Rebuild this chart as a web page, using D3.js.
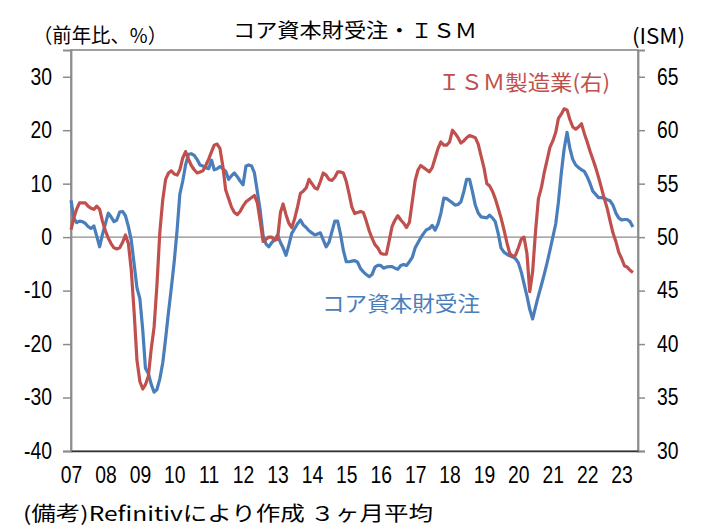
<!DOCTYPE html>
<html>
<head>
<meta charset="utf-8">
<script src="https://cdn.jsdelivr.net/npm/d3@7"></script>
<style>
  body { margin: 0; background: #fff; }
  svg { display: block; }
  .jp { font-family: "Noto Sans CJK JP", "Noto Sans", sans-serif; }
  .num { font-family: "Liberation Sans", Arial, sans-serif; font-size: 23px; fill: #000; }
</style>
</head>
<body>
<svg id="chart" width="701" height="529"></svg>
<script>
(() => {
  'use strict';

  // core capital goods orders, y/y %, 3-month average, monthly from Jan 2007
  const capexYoY = [
    6.9, 3.5, 2.7, 3.0, 2.9, 2.6, 2.0, 1.6, 2.1, 0.2, -1.8, 0.5,        // 2007
    2.5, 4.5, 3.8, 2.9, 3.2, 4.7, 4.8, 4.0, 2.0, -0.5, -5.0, -9.5,     // 2008
    -11.5, -17.5, -24.5, -25.5, -27.5, -29, -28.5, -26.5, -23.5, -19, -14, -9.5, // 2009
    -4.5, 1.5, 8, 10.5, 13.5, 15.5, 15.6, 15.3, 14.5, 13.5, 13.3, 13.0, // 2010
    12.8, 14.4, 12.6, 12.8, 13.2, 12.8, 12.3, 10.8, 11.5, 12.0, 11.3, 10.5, // 2011
    9.8, 13.3, 13.5, 13.3, 12.0, 8.5, 5.0, 0.3, -1.3, -1.8, -1.0, -0.5, // 2012
    0.4, -1.0, -2.0, -3.4, -1.5, 0.7, 1.6, 2.5, 3.2, 2.3, 1.8, 1.2,    // 2013
    0.8, 0.4, 0.6, 0.8, -0.5, -1.8, -1.0, 1.0, 3.0, 3.0, 0.5, -2.5,    // 2014
    -4.6, -4.6, -4.5, -4.4, -4.7, -5.9, -6.5, -7.0, -7.4, -7.0, -5.6, -5.3, // 2015
    -5.3, -5.8, -5.6, -5.5, -5.5, -5.8, -6.0, -5.3, -5.1, -5.3, -4.6, -3.8, // 2016
    -2.0, -1.0, -0.1, 0.7, 1.4, 1.6, 2.2, 1.3, 2.5, 4.5, 7.3, 7.2,     // 2017
    6.8, 6.4, 6.0, 6.1, 6.6, 8.5, 10.8, 10.8, 8.5, 6.0, 4.5, 3.8,      // 2018
    3.7, 3.6, 4.1, 3.6, 2.9, 0.7, -2.0, -2.8, -3.2, -3.5, -3.7, -4.0,  // 2019
    -4.8, -6.5, -8.7, -11, -13.5, -15.3, -13.1, -11, -9.0, -7.0, -4.8, -2.5, // 2020
    0, 2.5, 6.5, 12, 16.5, 19.6, 16.6, 14.5, 13.5, 13.0, 12.6, 12.3,   // 2021
    11.3, 10.0, 8.6, 8.0, 7.4, 7.4, 7.3, 7.0, 6.8, 6.0, 4.5, 3.6,      // 2022
    3.2, 3.3, 3.3, 2.9, 1.9                                            // 2023
  ];

  // ISM manufacturing index, 3-month average, monthly from Jan 2007
  const ismMfg = [
    50.7, 51.8, 52.6, 53.2, 53.2, 53.2, 52.9, 52.7, 52.6, 52.9, 52.6, 51.5, // 2007
    50.6, 49.9, 49.4, 49.0, 48.9, 49.0, 49.5, 50.2, 49.4, 47.0, 43.0, 38.5, // 2008
    36.5, 35.8, 36.2, 37.0, 39.5, 41.6, 45.5, 50.5, 53.5, 55.4, 56.0, 56.2, // 2009
    55.9, 55.8, 56.3, 57.4, 58.0, 57.3, 56.7, 56.3, 56.0, 56.1, 56.2, 56.7, // 2010
    57.3, 58.0, 58.6, 58.7, 58.3, 56.6, 54.4, 53.6, 52.8, 52.3, 52.1, 52.4, // 2011
    52.9, 53.3, 53.5, 53.7, 53.9, 53.2, 51.5, 49.6, 49.8, 50.0, 50.0, 49.7, // 2012
    49.8, 52.3, 53.1, 52.1, 51.3, 50.9, 51.7, 52.8, 54.1, 54.3, 54.6, 55.4, // 2013
    55.0, 54.6, 54.5, 55.2, 56.0, 55.8, 55.4, 55.3, 55.6, 56.1, 56.1, 56.0, // 2014
    55.2, 54.0, 52.8, 52.2, 52.3, 52.4, 52.3, 51.5, 50.6, 49.9, 49.3, 49.0, // 2015
    48.5, 48.4, 48.4, 49.7, 51.0, 51.6, 52.0, 51.6, 51.3, 50.9, 51.4, 53.3, // 2016
    55.3, 56.3, 56.7, 56.5, 56.3, 56.1, 56.5, 57.4, 58.3, 58.9, 58.6, 58.6, // 2017
    58.9, 60.0, 59.7, 59.3, 58.8, 59.0, 59.3, 59.5, 59.4, 59.3, 58.7, 57.6, // 2018
    56.5, 55.0, 54.8, 54.3, 53.6, 52.7, 51.8, 50.7, 49.5, 48.5, 48.2, 48.3, // 2019
    49.0, 49.8, 50.0, 48.5, 44.9, 46.8, 50.5, 53.6, 54.6, 56.0, 57.2, 58.4, // 2020
    59.0, 59.8, 61.1, 61.5, 62.0, 61.9, 61.0, 60.3, 60.1, 60.3, 60.6, 59.7, // 2021
    58.9, 58.0, 57.3, 56.5, 55.6, 54.6, 53.6, 52.7, 51.5, 50.4, 49.6, 48.6, // 2022
    48.0, 47.3, 47.2, 46.9, 46.7                                            // 2023
  ];

  const yearLabels = ["07", "08", "09", "10", "11", "12", "13", "14", "15",
                      "16", "17", "18", "19", "20", "21", "22", "23"];
  const leftTicks = [-40, -30, -20, -10, 0, 10, 20, 30];
  const rightTicks = [30, 35, 40, 45, 50, 55, 60, 65];

  const months = capexYoY.map((_, i) => new Date(2007, i, 1));
  const yearDates = yearLabels.map((_, i) => new Date(2007 + i, 0, 1));

  const plot = { left: 71, right: 638, top: 50, bottom: 451 };
  const blue = "#4a7ebb", red = "#c0504d";

  const svg = d3.select('#chart');

  let x = d3.scaleTime()
    .domain([new Date(2007, 0, 1), new Date(2023, 5, 24)])
    .range([plot.left, plot.right]);
  let yL = d3.scaleLinear().domain([-40, 35]).range([plot.bottom, plot.top]);
  let yR = d3.scaleLinear().domain([30, 67.5]).range([plot.bottom, plot.top]);

  // frame
  svg.append('rect')
    .attr('x', plot.left).attr('y', plot.top)
    .attr('width', plot.right - plot.left).attr('height', plot.bottom - plot.top)
    .attr('fill', 'none').attr('stroke', '#6e6e6e').attr('stroke-width', 1.3);

  // zero line
  svg.append('line')
    .attr('x1', plot.left).attr('x2', plot.right)
    .attr('y1', yL(0)).attr('y2', yL(0))
    .attr('stroke', '#8c8c8c').attr('stroke-width', 1.3);

  // condensed look for the numeric labels
  function narrow(sel) {
    sel.attr('class', 'num').attr('font-size', null).attr('font-family', null)
      .each(function () {
        d3.select(this)
          .attr('textLength', this.getComputedTextLength() * 0.84)
          .attr('lengthAdjust', 'spacingAndGlyphs');
      });
  }

  // left axis
  let gl = svg.append('g')
    .attr('transform', `translate(${plot.left},0)`)
    .call(d3.axisLeft(yL).tickValues(leftTicks).tickSize(8).tickPadding(11).tickFormat(d => String(d)));
  gl.select('.domain').attr('stroke', '#8c8c8c').attr('stroke-width', 1.8);
  gl.selectAll('.tick line').attr('stroke', '#8c8c8c').attr('stroke-width', 1.5);
  narrow(gl.selectAll('text'));

  // right axis
  let gr = svg.append('g')
    .attr('transform', `translate(${plot.right},0)`)
    .call(d3.axisRight(yR).tickValues(rightTicks).tickSize(7).tickPadding(12));
  gr.select('.domain').attr('stroke', '#8c8c8c').attr('stroke-width', 1.8);
  gr.selectAll('.tick line').attr('stroke', '#8c8c8c').attr('stroke-width', 1.5);
  narrow(gr.selectAll('text'));

  // bottom axis
  let gb = svg.append('g')
    .attr('transform', `translate(0,${plot.bottom})`)
    .call(d3.axisBottom(x).tickValues(yearDates).tickSize(0).tickPadding(16)
      .tickFormat((d, i) => yearLabels[i]));
  gb.select('.domain').attr('stroke', '#333').attr('stroke-width', 1.5);
  narrow(gb.selectAll('text'));

  // lines
  const lineL = d3.line().x((d, i) => x(months[i])).y(d => yL(d));
  const lineR = d3.line().x((d, i) => x(months[i])).y(d => yR(d));

  svg.append('path').datum(capexYoY)
    .attr('d', lineL).attr('fill', 'none')
    .attr('stroke', blue).attr('stroke-width', 3.2).attr('stroke-linejoin', 'round');
  svg.append('path').datum(ismMfg)
    .attr('d', lineR).attr('fill', 'none')
    .attr('stroke', red).attr('stroke-width', 3.2).attr('stroke-linejoin', 'round');

  // texts
  function label(txt, px, py, size, color, len) {
    let t = svg.append('text').attr('class', 'jp')
      .attr('x', px).attr('y', py)
      .attr('font-size', size).attr('fill', color)
      .text(txt);
    if (len) t.attr('textLength', len).attr('lengthAdjust', 'spacingAndGlyphs');
    return t;
  }

  label('コア資本財受注・ＩＳＭ', 233, 38, 20, '#000', 244);
  label('（前年比、%）', 33, 43, 20, '#000', 134);
  label('(ISM)', 632, 44, 21, '#000', 53);
  label('ＩＳＭ製造業(右)', 438, 90, 21, red, 172);
  label('コア資本財受注', 322, 311, 21, blue, 158);
  label('(備考)Refinitivにより作成 ３ヶ月平均', 23, 521, 20, '#000', 410);

})();
</script>
</body>
</html>
